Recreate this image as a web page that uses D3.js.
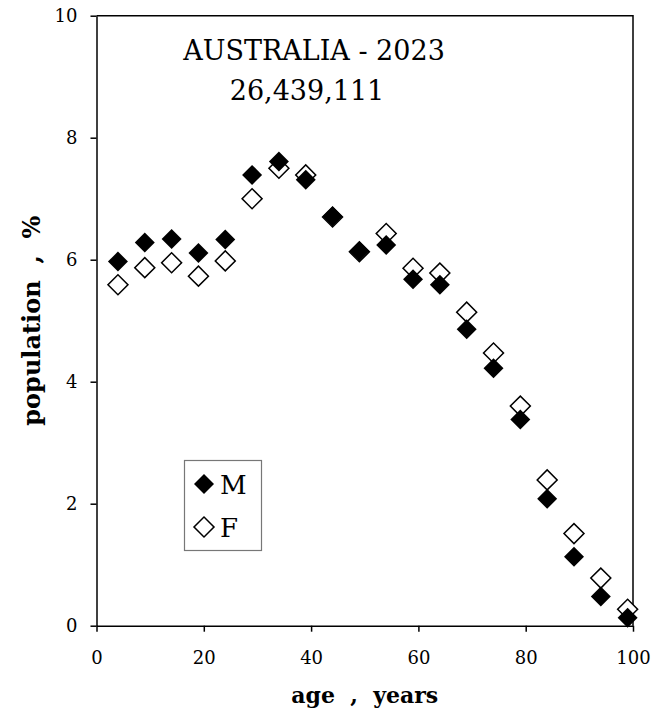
<!DOCTYPE html>
<html>
<head>
<meta charset="utf-8">
<title>Australia 2023 population by age</title>
<script src="https://d3js.org/d3.v7.min.js"></script>
<style>
  body { margin: 0; background: #fff; }
  svg { display: block; }
  svg text { font-family: "DejaVu Serif", serif; }
</style>
</head>
<body>
<svg id="chart" width="653" height="715"></svg>
<script>
// age group centres and percent of population
const ages = [4, 9, 14, 19, 24, 29, 34, 39, 44, 49, 54, 59, 64, 69, 74, 79, 84, 89, 94, 99];
const male = [5.97, 6.28, 6.34, 6.11, 6.33, 7.39, 7.61, 7.31, 6.71, 6.14, 6.24, 5.68, 5.59, 4.86, 4.22, 3.38, 2.08, 1.13, 0.48, 0.13];
const female = [5.59, 5.87, 5.95, 5.73, 5.98, 7.00, 7.50, 7.39, 6.70, 6.13, 6.43, 5.86, 5.78, 5.14, 4.47, 3.60, 2.39, 1.51, 0.78, 0.27];
const xTicks = [0, 20, 40, 60, 80, 100];
const yTicks = [0, 2, 4, 6, 8, 10];
const titleLines = ["AUSTRALIA - 2023", "26,439,111"];
const legendItems = ["M", "F"];

const svg = d3.select("#chart");
const pLeft = 96.5, pRight = 633, pTop = 15.7, pBottom = 625.7;

const x = d3.scaleLinear().domain([0, 100]).range([pLeft, pRight]);
const y = d3.scaleLinear().domain([0, 10]).range([pBottom, pTop]);

// frame on top and right
svg.append("path")
    .attr("d", `M${pLeft},${pTop}H${pRight}V${pBottom}`)
    .attr("fill", "none").attr("stroke", "#000").attr("stroke-width", 1.5);

let xAxis = svg.append("g")
    .attr("transform", `translate(0,${pBottom})`)
    .call(d3.axisBottom(x).tickValues(xTicks).tickSize(6).tickSizeOuter(0).tickPadding(20));
let yAxis = svg.append("g")
    .attr("transform", `translate(${pLeft},0)`)
    .call(d3.axisLeft(y).tickValues(yTicks).tickSize(6).tickSizeOuter(0).tickPadding(13));

[xAxis, yAxis].forEach(a => {
    a.attr("font-family", null);
    a.selectAll("path, line").attr("stroke", "#000").attr("stroke-width", 1.5);
    a.selectAll("text").attr("font-size", 18).attr("fill", "#000");
});

// axis titles
svg.append("text")
    .attr("x", (pLeft + pRight) / 2).attr("y", 703)
    .attr("text-anchor", "middle")
    .attr("font-weight", "bold").attr("font-size", 22)
    .attr("xml:space", "preserve")
    .text("age  ,  years");

svg.append("text")
    .attr("transform", `translate(40,${(pTop + pBottom) / 2}) rotate(-90)`)
    .attr("text-anchor", "middle")
    .attr("font-weight", "bold").attr("font-size", 24)
    .attr("xml:space", "preserve")
    .text("population  ,  %");

// title
svg.selectAll(".title")
    .data(titleLines)
    .enter().append("text")
    .attr("class", "title")
    .attr("x", (d, i) => i === 0 ? 314 : 307)
    .attr("y", (d, i) => 60 + i * 40)
    .attr("text-anchor", "middle")
    .attr("font-size", 27)
    .text(d => d);

const diamond = d3.symbol().type(d3.symbolSquare).size(200);

// females first so the filled male markers sit on top
svg.append("g").selectAll("path")
    .data(ages.map((a, i) => [a, female[i]]))
    .enter().append("path")
    .attr("d", diamond)
    .attr("transform", d => `translate(${x(d[0])},${y(d[1])}) rotate(45)`)
    .attr("fill", "#fff").attr("stroke", "#000").attr("stroke-width", 1.5);

svg.append("g").selectAll("path")
    .data(ages.map((a, i) => [a, male[i]]))
    .enter().append("path")
    .attr("d", diamond)
    .attr("transform", d => `translate(${x(d[0])},${y(d[1])}) rotate(45)`)
    .attr("fill", "#000");

// legend
let legend = svg.append("g");
legend.append("rect")
    .attr("x", 184.5).attr("y", 460.5).attr("width", 77).attr("height", 90)
    .attr("fill", "#fff").attr("stroke", "#777").attr("stroke-width", 1.2);

let items = legend.selectAll(".item")
    .data(legendItems)
    .enter().append("g")
    .attr("class", "item")
    .attr("transform", (d, i) => `translate(204,${484 + i * 43})`);

items.append("path")
    .attr("d", diamond)
    .attr("transform", "rotate(45)")
    .attr("fill", (d, i) => i === 0 ? "#000" : "#fff")
    .attr("stroke", "#000")
    .attr("stroke-width", (d, i) => i === 0 ? 0 : 1.5);

items.append("text")
    .attr("x", 16).attr("y", 10)
    .attr("font-size", 26)
    .text(d => d);
</script>
</body>
</html>
